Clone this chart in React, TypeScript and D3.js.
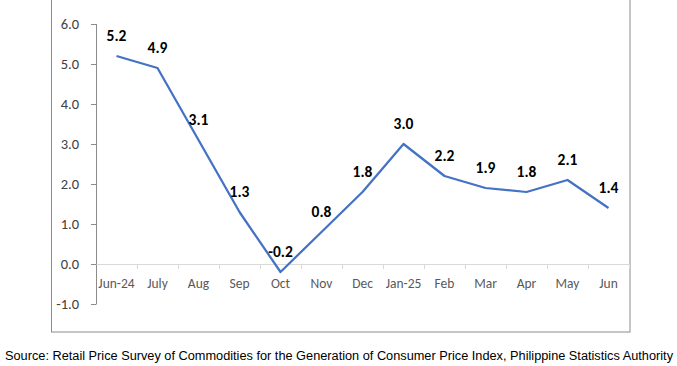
import React from 'react';
import * as d3 from 'd3';

// monthly inflation rate, Jun-24 to Jun-25
const months = ['Jun-24', 'July', 'Aug', 'Sep', 'Oct', 'Nov', 'Dec', 'Jan-25', 'Feb', 'Mar', 'Apr', 'May', 'Jun'];
const rates = [5.2, 4.9, 3.1, 1.3, -0.2, 0.8, 1.8, 3.0, 2.2, 1.9, 1.8, 2.1, 1.4];
const yTicks = [-1, 0, 1, 2, 3, 4, 5, 6];
const source = 'Source: Retail Price Survey of Commodities for the Generation of Consumer Price Index, Philippine Statistics Authority';

const W = 677;
const H = 366;
const LABEL_FONT = 'Carlito, Lato, "Open Sans", sans-serif';

const App = () => {
    const x = d3.scaleBand<string>().domain(months).range([96, 629]).padding(0);
    const y = d3.scaleLinear().domain([-1, 6]).range([304, 24]);

    const line = d3.line<number>()
        .x((d, i) => x(months[i])! + x.bandwidth() / 2)
        .y(d => y(d));

    const edges = months.map(m => x(m)!).concat([x.range()[1]]);

    return (
        <svg width={W} height={H} style={{ position: 'absolute', left: 0, top: 0, background: '#fff' }}>
            {/* chart frame */}
            <rect x={51.5} y={-10} width={578.5} height={342} fill="none" stroke="#8c8c8c" strokeWidth={1} />

            {/* y axis */}
            <line x1={96.5} x2={96.5} y1={y(6)} y2={y(-1)} stroke="#8c8c8c" />
            {yTicks.map(t => (
                <g key={t}>
                    <line x1={91} x2={96.5} y1={Math.round(y(t)) + 0.5} y2={Math.round(y(t)) + 0.5} stroke="#8c8c8c" />
                    <text x={79} y={y(t) + 5} textAnchor="end" fontFamily={LABEL_FONT} fontSize={14.5} fill="#404040">
                        {t.toFixed(1)}
                    </text>
                </g>
            ))}

            {/* category axis at zero */}
            <line x1={96.5} x2={629} y1={y(0) + 0.5} y2={y(0) + 0.5} stroke="#d9d9d9" />
            {edges.slice(1).map((e, i) => (
                <line key={i} x1={Math.round(e) + 0.5} x2={Math.round(e) + 0.5} y1={y(0)} y2={y(0) + 5} stroke="#d9d9d9" />
            ))}
            {months.map(m => (
                <text key={m} x={x(m)! + x.bandwidth() / 2} y={288} textAnchor="middle"
                    fontFamily={LABEL_FONT} fontSize={13.5} fill="#595959">
                    {m}
                </text>
            ))}

            {/* series */}
            <path d={line(rates)!} fill="none" stroke="#4472c4" strokeWidth={2.25} strokeLinejoin="round" />

            {/* data labels */}
            {rates.map((v, i) => (
                <text key={i} x={x(months[i])! + x.bandwidth() / 2} y={y(v) - 15.5} textAnchor="middle"
                    fontFamily={LABEL_FONT} fontSize={15.5} fontWeight="bold" fill="#000">
                    {v.toFixed(1)}
                </text>
            ))}

            {/* source note */}
            <text x={5} y={360} fontFamily='"Liberation Sans", Arial, sans-serif' fontSize={12} fill="#000"
                textLength={668} lengthAdjust="spacingAndGlyphs">
                {source}
            </text>
        </svg>
    );
};

export default App;
